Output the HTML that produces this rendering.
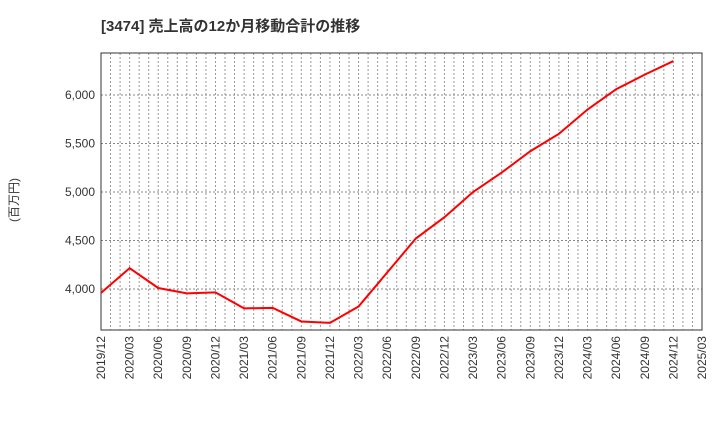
<!DOCTYPE html>
<html><head><meta charset="utf-8"><style>
body{margin:0;background:#fff;}
svg{display:block;font-family:"Liberation Sans","Noto Sans CJK JP",sans-serif;}
</style></head><body>
<svg id="c" width="720" height="440">
<text x="101" y="31" font-size="15" font-weight="bold" fill="#333">[3474]  売上高の12か月移動合計の推移</text>
<text transform="translate(18,200) rotate(-90)" text-anchor="middle" font-size="12" fill="#333">(百万円)</text>
<g id="grid"></g><g id="axes"></g><g id="series"></g>
</svg>
<script>
const categories=["2019/12","2020/03","2020/06","2020/09","2020/12","2021/03","2021/06","2021/09","2021/12","2022/03","2022/06","2022/09","2022/12","2023/03","2023/06","2023/09","2023/12","2024/03","2024/06","2024/09","2024/12"];
const values=[3960,4215,4010,3955,3965,3800,3805,3665,3650,3820,4170,4520,4740,5000,5200,5420,5600,5850,6060,6210,6350];
const xTickLabels=["2019/12","2020/03","2020/06","2020/09","2020/12","2021/03","2021/06","2021/09","2021/12","2022/03","2022/06","2022/09","2022/12","2023/03","2023/06","2023/09","2023/12","2024/03","2024/06","2024/09","2024/12","2025/03"];
const yTicks=[4000,4500,5000,5500,6000];
const L=101,R=702,T=53,B=330,yMin=3577,yMax=6433,nQ=21;
const ns="http://www.w3.org/2000/svg";
const x=i=>L+(R-L)*i/nQ;
const y=v=>B-(v-yMin)/(yMax-yMin)*(B-T);
function mk(t,a,p){const e=document.createElementNS(ns,t);for(const k in a)e.setAttribute(k,a[k]);p.appendChild(e);return e;}
const g=document.getElementById('grid'),ax=document.getElementById('axes'),s=document.getElementById('series');
for(let m=1;m<nQ*3;m++){const xx=L+(R-L)*m/(nQ*3);
const l=mk('line',{x1:xx,x2:xx,y1:T,y2:B,stroke:'#999','stroke-dasharray':'2,2','stroke-width':1},g);

}
yTicks.forEach(v=>{const l=mk('line',{x1:L,x2:R,y1:y(v),y2:y(v),stroke:'#888','stroke-dasharray':'2,2'},g);


const t=mk('text',{x:L-6,y:y(v)+4,'text-anchor':'end','font-size':12,fill:'#333'},ax);t.textContent=v.toLocaleString('en-US');

});
const fr=mk('rect',{x:L,y:T,width:R-L,height:B-T,fill:'none',stroke:'#333'},ax);


xTickLabels.forEach((c,i)=>{const xx=x(i);const t=mk('text',{transform:`translate(${xx+4},${B+6}) rotate(-90)`,'text-anchor':'end','font-size':12,fill:'#333'},ax);t.textContent=c;

});
const p=mk('polyline',{points:values.map((v,i)=>x(i)+','+y(v)).join(' '),fill:'none',stroke:'#f00','stroke-width':2},s);


</script>
</body></html>
